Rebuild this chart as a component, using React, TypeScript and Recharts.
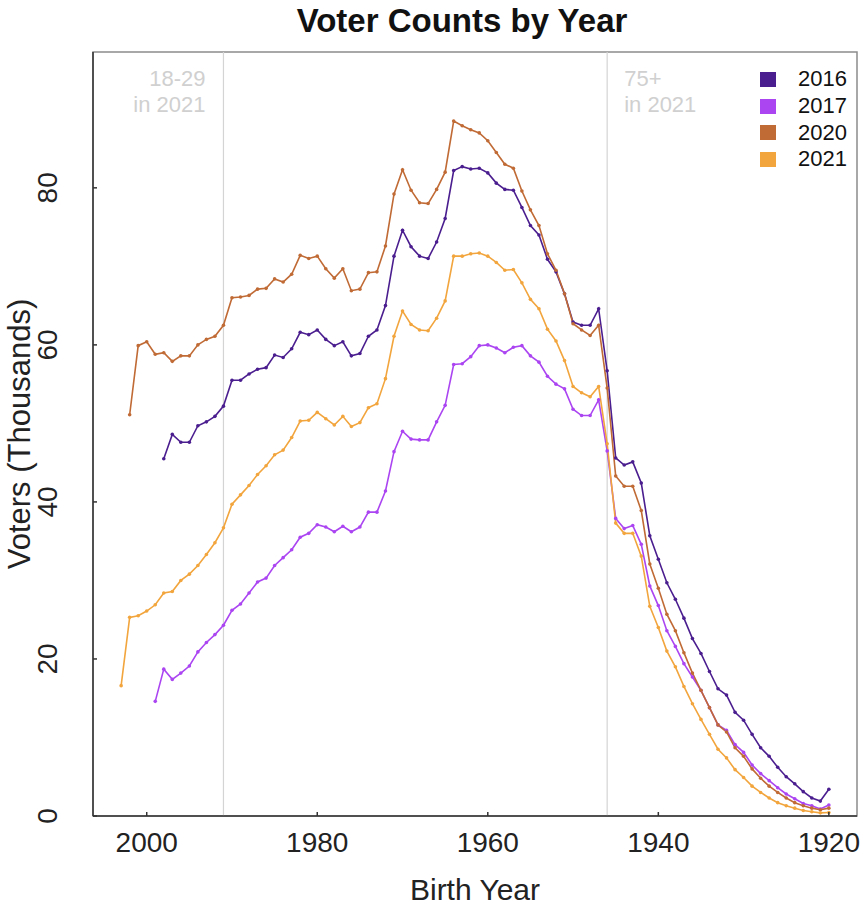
import { LineChart, Line, XAxis, YAxis, ReferenceLine, ReferenceArea } from 'recharts'

const FONT = '"Liberation Sans", Arial, Helvetica, sans-serif'

// birth years, left to right on the (reversed) x axis
const BIRTH_YEARS = [
  2003, 2002, 2001, 2000, 1999, 1998, 1997, 1996, 1995, 1994, 1993, 1992, 1991, 1990,
  1989, 1988, 1987, 1986, 1985, 1984, 1983, 1982, 1981, 1980, 1979, 1978, 1977, 1976,
  1975, 1974, 1973, 1972, 1971, 1970, 1969, 1968, 1967, 1966, 1965, 1964, 1963, 1962,
  1961, 1960, 1959, 1958, 1957, 1956, 1955, 1954, 1953, 1952, 1951, 1950, 1949, 1948,
  1947, 1946, 1945, 1944, 1943, 1942, 1941, 1940, 1939, 1938, 1937, 1936, 1935, 1934,
  1933, 1932, 1931, 1930, 1929, 1928, 1927, 1926, 1925, 1924, 1923, 1922, 1921, 1920,
]

// voters in thousands, same order as BIRTH_YEARS
const V2016 = [
  null, null, null, null, null, 45.5, 48.6, 47.6, 47.6, 49.7, 50.2, 50.9, 52.2, 55.5,
  55.5, 56.3, 56.9, 57.1, 58.7, 58.4, 59.5, 61.6, 61.3, 61.9, 60.7, 59.9, 60.4, 58.6,
  58.9, 61.1, 61.9, 65.0, 71.3, 74.6, 72.5, 71.3, 71.0, 73.1, 76.1, 82.2, 82.7, 82.4,
  82.5, 81.9, 80.6, 79.8, 79.7, 77.5, 75.2, 74.0, 70.9, 69.3, 66.5, 62.9, 62.5, 62.5,
  64.6, 56.7, 45.6, 44.7, 45.1, 42.4, 35.7, 32.7, 29.7, 27.6, 25.2, 22.6, 20.7, 18.4,
  16.2, 15.4, 13.2, 12.2, 10.4, 8.7, 7.6, 6.2, 5.0, 4.1, 3.1, 2.3, 1.9, 3.4,
]
const V2017 = [
  null, null, null, null, 14.6, 18.7, 17.4, 18.2, 19.1, 20.9, 22.1, 23.1, 24.3, 26.2,
  27.0, 28.4, 29.8, 30.3, 31.9, 32.9, 33.9, 35.5, 36.0, 37.1, 36.8, 36.2, 36.9, 36.2,
  36.8, 38.7, 38.7, 41.4, 46.4, 49.0, 48.0, 47.9, 47.9, 50.2, 52.3, 57.5, 57.6, 58.5,
  59.9, 60.0, 59.6, 59.0, 59.7, 59.9, 58.6, 57.8, 56.0, 55.0, 54.4, 51.8, 51.0, 51.0,
  53.0, 46.5, 37.9, 36.6, 37.0, 34.6, 29.3, 26.8, 23.6, 21.6, 19.4, 17.7, 16.0, 13.8,
  11.6, 10.9, 9.1, 8.1, 6.5, 5.4, 4.5, 3.6, 2.8, 2.2, 1.6, 1.3, 0.9, 1.4,
]
const V2020 = [
  null, 51.1, 59.9, 60.4, 58.8, 59.0, 57.9, 58.6, 58.6, 60.0, 60.7, 61.1, 62.5, 66.0,
  66.1, 66.3, 67.1, 67.2, 68.4, 68.0, 69.0, 71.4, 71.0, 71.3, 69.7, 68.5, 69.7, 66.9,
  67.1, 69.2, 69.3, 72.6, 79.2, 82.3, 79.7, 78.1, 78.0, 79.8, 82.0, 88.5, 87.9, 87.4,
  87.0, 86.0, 84.5, 83.0, 82.5, 79.6, 77.2, 75.2, 71.6, 69.5, 66.5, 62.7, 61.9, 61.2,
  62.5, 54.5, 43.3, 42.0, 42.0, 38.9, 32.1, 29.0, 25.7, 23.6, 20.8, 18.2, 16.0, 13.8,
  11.6, 10.7, 8.7, 7.6, 6.0, 4.8, 3.8, 3.0, 2.3, 1.7, 1.3, 1.0, 0.8, 1.0,
]
const V2021 = [
  16.6, 25.3, 25.5, 26.1, 26.9, 28.4, 28.6, 30.0, 30.8, 31.9, 33.3, 34.8, 36.7, 39.7,
  40.9, 42.1, 43.5, 44.6, 46.0, 46.6, 48.2, 50.3, 50.4, 51.4, 50.6, 49.8, 50.9, 49.6,
  50.1, 52.0, 52.5, 55.7, 61.1, 64.3, 62.6, 61.9, 61.8, 63.4, 65.6, 71.3, 71.3, 71.6,
  71.7, 71.3, 70.5, 69.5, 69.6, 67.9, 65.8, 64.6, 62.0, 60.5, 58.0, 54.7, 53.9, 53.4,
  54.7, 47.4, 37.3, 36.0, 36.0, 33.1, 26.7, 24.0, 21.0, 19.0, 16.5, 14.3, 12.3, 10.4,
  8.5, 7.4, 5.9, 4.9, 3.8, 3.0, 2.3, 1.7, 1.3, 1.0, 0.7, 0.55, 0.4, 0.45,
]

const SERIES = [
  { key: 'y2016', name: '2016', color: '#4b1e8f' },
  { key: 'y2017', name: '2017', color: '#ab45f2' },
  { key: 'y2020', name: '2020', color: '#c06a35' },
  { key: 'y2021', name: '2021', color: '#f2a53d' },
]

const X_TICKS = [2000, 1980, 1960, 1940, 1920]
const Y_TICKS = [0, 20, 40, 60, 80]
const X_DOMAIN: [number, number] = [1916.7, 2006.3]
const Y_DOMAIN: [number, number] = [0, 97.3]

const data = BIRTH_YEARS.map((year, i) => ({
  year,
  y2016: V2016[i],
  y2017: V2017[i],
  y2020: V2020[i],
  y2021: V2021[i],
}))

const XTick = ({ x, y, payload }: any) => (
  <g>
    <line x1={x} x2={x} y1={y} y2={y - 4} stroke="#333" strokeWidth={1.5} />
    <text x={x} y={y + 36} textAnchor="middle" fontSize={28} fontFamily={FONT} fill="#222">
      {payload.value}
    </text>
  </g>
)

const YTick = ({ x, y, payload }: any) => (
  <g>
    <line x1={x} x2={x + 4} y1={y} y2={y} stroke="#333" strokeWidth={1.5} />
    <text
      x={x - 36}
      y={y}
      transform={`rotate(-90 ${x - 36} ${y})`}
      textAnchor="middle"
      fontSize={28}
      fontFamily={FONT}
      fill="#222"
    >
      {payload.value}
    </text>
  </g>
)

const noteStyle = { fontSize: 22, fontFamily: FONT, fill: '#d0d0d0' }

const YoungNote = ({ viewBox }: any) => (
  <g>
    <text x={viewBox.x - 18} y={viewBox.y + 34} textAnchor="end" {...noteStyle}>18-29</text>
    <text x={viewBox.x - 18} y={viewBox.y + 60} textAnchor="end" {...noteStyle}>in 2021</text>
  </g>
)

const OldNote = ({ viewBox }: any) => (
  <g>
    <text x={viewBox.x + 17} y={viewBox.y + 34} textAnchor="start" {...noteStyle}>75+</text>
    <text x={viewBox.x + 17} y={viewBox.y + 60} textAnchor="start" {...noteStyle}>in 2021</text>
  </g>
)

export default function App() {
  return (
    <div style={{ position: 'absolute', left: 0, top: 0, width: 868, height: 910, background: '#fff' }}>
      <div
        style={{
          position: 'absolute',
          left: 80,
          top: 4,
          width: 764,
          textAlign: 'center',
          fontFamily: FONT,
          fontWeight: 'bold',
          fontSize: 33,
          lineHeight: '33px',
          color: '#111',
        }}
      >
        Voter Counts by Year
      </div>
      <LineChart width={868} height={910} data={data} margin={{ top: 52, right: 11, bottom: 34, left: 33 }}>
        <ReferenceArea
          x1={X_DOMAIN[0]}
          x2={X_DOMAIN[1]}
          y1={Y_DOMAIN[0]}
          y2={Y_DOMAIN[1]}
          fill="none"
          stroke="#8c8c8c"
          strokeWidth={1.5}
        />
        <XAxis
          dataKey="year"
          type="number"
          reversed
          domain={X_DOMAIN}
          allowDataOverflow
          ticks={X_TICKS}
          interval={0}
          height={60}
          tickSize={0}
          tickMargin={0}
          tick={<XTick />}
          axisLine={{ stroke: '#333', strokeWidth: 1.5 }}
          label={({ viewBox }: any) => (
            <text
              x={viewBox.x + viewBox.width / 2}
              y={viewBox.y + 84}
              textAnchor="middle"
              fontSize={30}
              fontFamily={FONT}
              fill="#222"
            >
              Birth Year
            </text>
          )}
        />
        <YAxis
          type="number"
          domain={Y_DOMAIN}
          allowDataOverflow
          ticks={Y_TICKS}
          interval={0}
          width={60}
          tickSize={0}
          tickMargin={0}
          tick={<YTick />}
          axisLine={{ stroke: '#333', strokeWidth: 1.5 }}
          label={({ viewBox }: any) => (
            <text
              x={viewBox.x - 3}
              y={viewBox.y + viewBox.height / 2}
              transform={`rotate(-90 ${viewBox.x - 3} ${viewBox.y + viewBox.height / 2})`}
              textAnchor="middle"
              fontSize={31}
              fontFamily={FONT}
              fill="#222"
            >
              Voters (Thousands)
            </text>
          )}
        />
        <ReferenceLine x={1991} stroke="#d4d4d4" strokeWidth={1.2} label={<YoungNote />} />
        <ReferenceLine x={1946} stroke="#d4d4d4" strokeWidth={1.2} label={<OldNote />} />
        {SERIES.map((s) => (
          <Line
            key={s.key}
            type="linear"
            dataKey={s.key}
            name={s.name}
            stroke={s.color}
            strokeWidth={1.6}
            dot={{ r: 1.8, fill: s.color, stroke: s.color, strokeWidth: 0 }}
            activeDot={false}
            isAnimationActive={false}
          />
        ))}
      </LineChart>
      <div style={{ position: 'absolute', left: 760, top: 66, fontFamily: FONT, fontSize: 22, color: '#111' }}>
        {SERIES.map((s) => (
          <div key={s.key} style={{ display: 'flex', alignItems: 'center', height: 26.7 }}>
            <span style={{ width: 16, height: 15, background: s.color, marginRight: 22, display: 'inline-block' }} />
            {s.name}
          </div>
        ))}
      </div>
    </div>
  )
}
